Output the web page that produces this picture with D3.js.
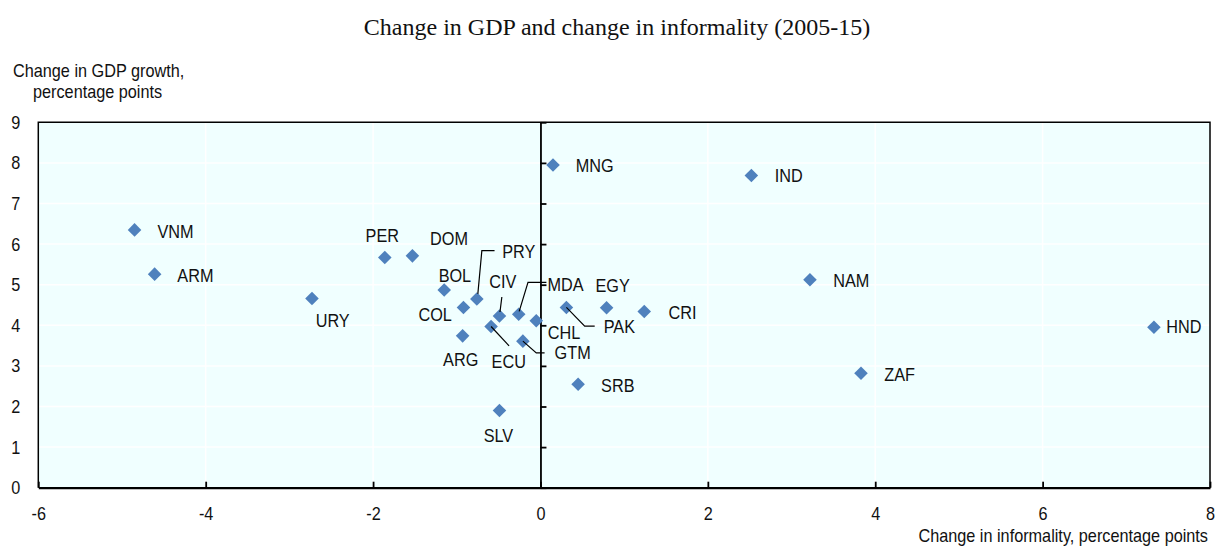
<!DOCTYPE html>
<html>
<head>
<meta charset="utf-8">
<script src="https://cdn.jsdelivr.net/npm/d3@7"></script>
<style>
  html, body { margin: 0; padding: 0; background: #fff; }
  svg { display: block; }
</style>
</head>
<body>
<svg id="chart" width="1215" height="547"></svg>
<script>
// ---- data ----
const countries   = ["VNM","ARM","URY","PER","DOM","BOL","COL","PRY","CIV","MDA","CHL","ECU","ARG","GTM","SLV","PAK","EGY","CRI","SRB","MNG","IND","NAM","ZAF","HND"];
const informality = [-4.85,-4.61,-2.73,-1.86,-1.53,-1.15,-0.92,-0.76,-0.49,-0.26,-0.05,-0.59,-0.93,-0.21,-0.49,0.31,0.79,1.24,0.45,0.15,2.52,3.22,3.83,7.33];
const gdpGrowth   = [6.35,5.26,4.66,5.67,5.71,4.87,4.44,4.65,4.23,4.27,4.11,3.97,3.74,3.61,1.90,4.44,4.43,4.34,2.55,7.95,7.69,5.12,2.82,3.95];
const xTicks = [-6,-4,-2,0,2,4,6,8];
const yTicks = [0,1,2,3,4,5,6,7,8,9];
const title = "Change in GDP and change in informality (2005-15)";
const yTitle = ["Change in GDP growth,", "percentage points"];
const xTitle = "Change in informality, percentage points";

// ---- label layout (pixel offsets from each marker) ----
const labelDx     = [23,22.7,3.7,-2.5,17.7,10.7,-11.6,25.4,3.4,28.7,11.6,17.7,-1.9,31.7,-1,37.3,6,24.3,23,22.7,23.3,23.3,23.3,12.4];
const labelDy     = [7.7,8,28.4,-15,-10.7,-8.3,13.4,-41,-27.7,-23.6,18.3,41.6,29.7,18.3,31.6,26,-15.4,7.6,7.4,6.7,7,6.7,7.7,6];
const labelAnchor = ["start","start","start","middle","start","middle","end","start","middle","start","start","middle","middle","start","middle","start","middle","start","start","start","start","start","start","start"];
const leaders = {
  PRY: [[1,-5],[5,-48.3],[17.7,-48.3]],
  CIV: [[0.5,-4],[2.4,-19]],
  MDA: [[0.5,-3],[9.3,-32],[27.7,-32]],
  PAK: [[0,0],[18.3,18.7],[28.3,18.7]],
  ECU: [[0,0],[18,19.3]],
  GTM: [[0,0],[13.4,11.7],[21.7,11.7]]
};

// ---- drawing ----
const svg = d3.select("#chart");
const L = 38.3, R = 1210, T = 122.3, B = 487.7;
const x = d3.scaleLinear().domain([-6, 8]).range([L, R]);
const y = d3.scaleLinear().domain([0, 9]).range([B, T]);
const sans = "'Liberation Sans',Arial,sans-serif";
const fs = 19;
const ink = "#111";

// condense sans text horizontally to mimic a narrow face
function narrow(sel) {
  sel.each(function () {
    const w = this.getComputedTextLength();
    this.setAttribute("textLength", (w * 0.855).toFixed(2));
    this.setAttribute("lengthAdjust", "spacingAndGlyphs");
  });
}

// title
svg.append("text")
  .attr("x", 617).attr("y", 35)
  .attr("text-anchor", "middle")
  .attr("font-family", "'Liberation Serif','Times New Roman',serif")
  .attr("font-size", 24).attr("fill", ink)
  .text(title);

// axis titles
const axTitles = svg.append("g").attr("font-family", sans).attr("font-size", fs).attr("fill", ink);
axTitles.append("text").attr("x", 13).attr("y", 77).text(yTitle[0]);
axTitles.append("text").attr("x", 33).attr("y", 98).text(yTitle[1]);
axTitles.append("text").attr("x", 1208).attr("y", 541.5).attr("text-anchor", "end").text(xTitle);
narrow(axTitles.selectAll("text"));

// plot background
svg.append("rect").attr("x", L).attr("y", T).attr("width", R - L).attr("height", B - T)
  .attr("fill", "#F0FFFF");

// gridlines
svg.append("g").selectAll("line").data(yTicks.filter(v => v > 0 && v < 9)).join("line")
  .attr("x1", L).attr("x2", R).attr("y1", d => y(d)).attr("y2", d => y(d))
  .attr("stroke", "#fff").attr("stroke-width", 1.5);
svg.append("g").selectAll("line").data(xTicks.filter(v => v !== 0 && v > -6 && v < 8)).join("line")
  .attr("y1", T).attr("y2", B).attr("x1", d => x(d)).attr("x2", d => x(d))
  .attr("stroke", "#fff").attr("stroke-width", 1.5);

// border (top, left, right)
svg.append("path")
  .attr("d", `M${L},${B}V${T}H${R}V${B}`)
  .attr("fill", "none").attr("stroke", "#000").attr("stroke-width", 1.5);

// zero vertical axis with ticks to the right
const zeroAxis = svg.append("g").attr("transform", `translate(${x(0)},0)`)
  .call(d3.axisRight(y).tickValues(yTicks).tickSize(6).tickSizeOuter(0).tickFormat(""));
zeroAxis.selectAll("path,line").attr("stroke", "#000").attr("stroke-width", 1.8);

// y tick labels (left)
const yAxis = svg.append("g").attr("transform", `translate(${L},0)`)
  .call(d3.axisLeft(y).tickValues(yTicks).tickSize(0).tickPadding(18).tickFormat(d => String(d)));
yAxis.select(".domain").remove();
yAxis.selectAll("text").attr("font-family", sans).attr("font-size", fs).attr("fill", ink);
narrow(yAxis.selectAll("text"));

// x axis (bottom) with inward ticks
const xAxis = svg.append("g").attr("transform", `translate(0,${B})`)
  .call(d3.axisBottom(x).tickValues(xTicks).tickSize(-6).tickSizeOuter(0).tickPadding(18.5).tickFormat(d => String(d)));
xAxis.select(".domain").attr("stroke", "#000").attr("stroke-width", 2.2);
xAxis.selectAll(".tick line").attr("stroke", "#000").attr("stroke-width", 1.8);
xAxis.selectAll("text").attr("font-family", sans).attr("font-size", fs).attr("fill", ink);
narrow(xAxis.selectAll("text"));

// data
const pts = countries.map((c, i) => ({ c, xv: informality[i], yv: gdpGrowth[i], i }));

// markers
const diamond = d3.symbol().type(d3.symbolSquare).size(92);
svg.append("g").selectAll("path").data(pts).join("path")
  .attr("d", diamond)
  .attr("transform", d => `translate(${x(d.xv)},${y(d.yv)}) rotate(45)`)
  .attr("fill", "#4F81BD");

// leader lines
const line = d3.line();
svg.append("g").selectAll("path").data(pts.filter(d => leaders[d.c])).join("path")
  .attr("d", d => line(leaders[d.c].map(([dx, dy]) => [x(d.xv) + dx, y(d.yv) + dy])))
  .attr("fill", "none").attr("stroke", "#000").attr("stroke-width", 1.2);

// labels
const labels = svg.append("g").selectAll("text").data(pts).join("text")
  .attr("x", d => x(d.xv) + labelDx[d.i])
  .attr("y", d => y(d.yv) + labelDy[d.i])
  .attr("text-anchor", d => labelAnchor[d.i])
  .attr("font-family", sans).attr("font-size", fs).attr("fill", ink)
  .text(d => d.c);
narrow(labels);
</script>
</body>
</html>
